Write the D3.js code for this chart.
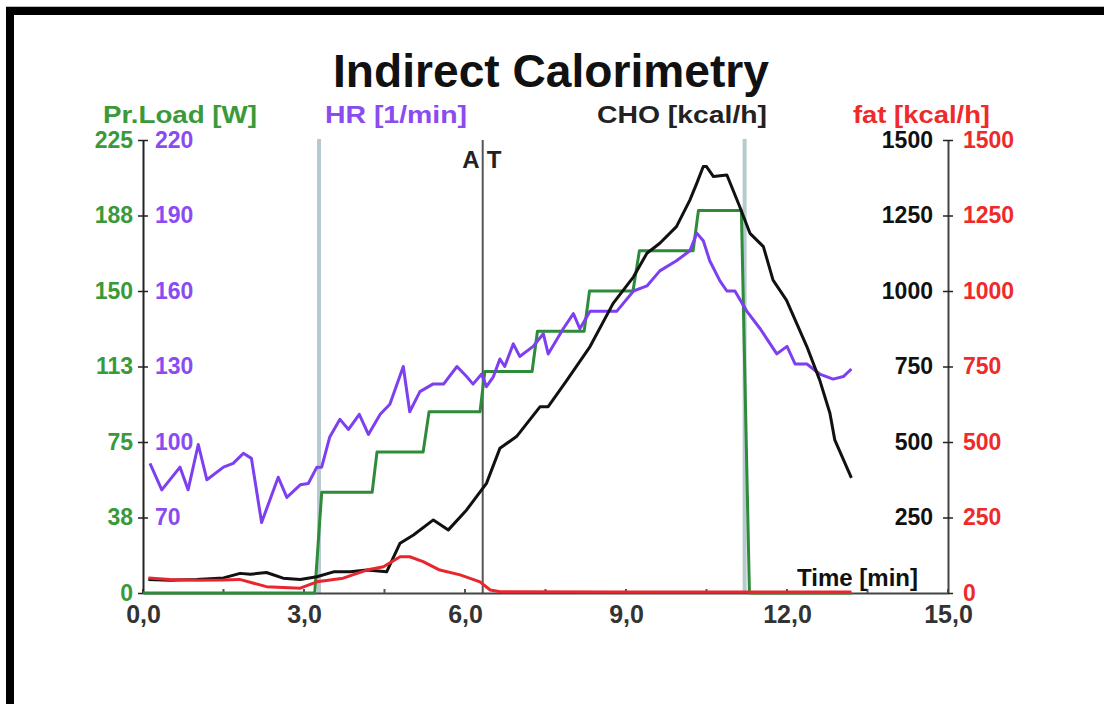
<!DOCTYPE html>
<html>
<head>
 <meta charset="UTF-8">
 <title>Indirect Calorimetry</title>
 <script src="https://d3js.org/d3.v7.min.js"></script>
 <style>
  body { margin: 0; background: #fff; }
  text { font-family: "Liberation Sans", Arial, sans-serif; }
 </style>
</head>
<body>
<script type="text/javascript">
// time axis [min]
var timeTicks = [0, 3, 6, 9, 12, 15];
var loadTicks = [0, 37.5, 75, 112.5, 150, 187.5, 225];
var hrTicks = [70, 100, 130, 160, 190, 220];
var choTicks = [250, 500, 750, 1000, 1250, 1500];
var fatTicks = [0, 250, 500, 750, 1000, 1250, 1500];

// Pr.Load [W]
var loadTime = [0, 3.2, 3.33, 4.27, 4.36, 5.22, 5.33, 6.28, 6.37, 7.25, 7.35, 8.22, 8.32, 9.13, 9.25, 10.25, 10.35, 11.15, 11.3, 13.2];
var loadWatt = [0, 0, 50, 50, 70, 70, 90, 90, 110, 110, 130, 130, 150, 150, 170, 170, 190, 190, 0, 0];

// HR [1/min]
var hrTime = [0.13, 0.35, 0.69, 0.84, 1.03, 1.19, 1.5, 1.68, 1.87, 2.02, 2.21, 2.52, 2.68, 2.93, 3.08, 3.24, 3.33, 3.48, 3.67, 3.83, 4.03,
  4.2, 4.42, 4.6, 4.85, 4.97, 5.16, 5.4, 5.6, 5.85, 6.03, 6.15, 6.31, 6.4, 6.53, 6.65, 6.74, 6.9, 7.02, 7.27, 7.46, 7.55, 7.83,
  8.02, 8.14, 8.33, 8.58, 8.83, 9.14, 9.39, 9.63, 9.94, 10.19, 10.32, 10.44, 10.56, 10.75, 10.88, 11.03, 11.25, 11.5, 11.81,
  12.0, 12.15, 12.37, 12.61, 12.86, 13.05, 13.2];
var hrBpm = [91.5, 81, 90, 81, 99, 85, 90, 91.5, 95.5, 93.5, 68, 86, 78, 83, 83.5, 90, 90, 102, 109, 105, 111,
  103, 111, 115, 130, 112, 120, 123, 123, 130, 126, 123, 127, 122, 126, 133, 130, 139, 134, 138, 143, 135, 145,
  151, 145, 152, 152, 152, 160, 162, 168, 172, 176, 183, 180, 172, 164, 160, 160, 152, 145, 135,
  138, 131, 131, 127, 125, 126, 129];

// CHO [kcal/h]
var choTime = [0.1, 0.5, 1.0, 1.5, 1.81, 2.0, 2.3, 2.61, 2.93, 3.24, 3.55, 3.86, 4.17, 4.54, 4.79, 5.04, 5.41, 5.69, 6.03, 6.4,
  6.65, 6.96, 7.4, 7.55, 7.9, 8.33, 8.76, 9.14, 9.39, 9.63, 9.94, 10.19, 10.32, 10.44, 10.5, 10.63, 10.88, 11.12, 11.31,
  11.56, 11.74, 11.99, 12.37, 12.61, 12.8, 12.89, 13.2];
var choKcal = [45, 42, 45, 50, 65, 62, 68, 49, 45, 54, 70, 70, 76, 70, 165, 192, 242, 209, 275, 363,
  479, 518, 617, 617, 705, 816, 959, 1047, 1125, 1158, 1213, 1301, 1357, 1412, 1412, 1379, 1384, 1279, 1191,
  1147, 1036, 970, 816, 705, 595, 507, 381];

// fat [kcal/h]
var fatTime = [0.1, 0.5, 1.0, 1.5, 1.8, 2.3, 2.93, 3.24, 3.73, 4.17, 4.48, 4.79, 4.97, 5.22, 5.53, 5.91, 6.28, 6.47, 6.65, 9.0, 13.2];
var fatKcal = [50, 45, 42, 43, 45, 21, 16, 37, 49, 76, 87, 120, 120, 104, 76, 60, 37, 10, 4, 3, 3];

// markers [min]
var phaseLines = [3.28, 11.21];
var atTime = 6.33;

var svg = d3.select('body').append('svg')
  .attr('width', 1104)
  .attr('height', 704);

// frame
svg.append('rect').attr('x', 6).attr('y', 6).attr('width', 1098).attr('height', 1).attr('fill', '#bbb');
svg.append('rect').attr('x', 6).attr('y', 7).attr('width', 1098).attr('height', 8).attr('fill', '#000');
svg.append('rect').attr('x', 6).attr('y', 7).attr('width', 8).attr('height', 697).attr('fill', '#000');

var x = d3.scaleLinear().domain([0, 15]).range([143, 948]);
var yLoad = d3.scaleLinear().domain([0, 225]).range([593, 140]);
var yHR = d3.scaleLinear().domain([40, 220]).range([593, 140]);
var yCho = d3.scaleLinear().domain([0, 1500]).range([593, 140]);
var yFat = d3.scaleLinear().domain([0, 1500]).range([593, 140]);

// title and axis headers
svg.append('text').attr('x', 551).attr('y', 87).attr('text-anchor', 'middle')
  .style('font-size', '46px').style('font-weight', 'bold').attr('fill', '#111')
  .attr('textLength', 436).attr('lengthAdjust', 'spacingAndGlyphs')
  .text('Indirect Calorimetry');

function header(txt, x0, w, color) {
  svg.append('text').attr('x', x0).attr('y', 123)
    .style('font-size', '24px').style('font-weight', 'bold').attr('fill', color)
    .attr('textLength', w).attr('lengthAdjust', 'spacingAndGlyphs')
    .text(txt);
}
header('Pr.Load [W]', 103, 154, '#3a9a3a');
header('HR [1/min]', 325, 142, '#8a4cf0');
header('CHO [kcal/h]', 597, 170, '#222');
header('fat [kcal/h]', 853, 137, '#ee2a2a');

// reference lines
svg.selectAll('.phase').data(phaseLines).enter().append('line')
  .attr('x1', function (d) { return x(d); }).attr('x2', function (d) { return x(d); })
  .attr('y1', 139).attr('y2', 593)
  .attr('stroke', '#b7cacd').attr('stroke-width', 4);

svg.append('line').attr('x1', x(atTime)).attr('x2', x(atTime))
  .attr('y1', 140).attr('y2', 593)
  .attr('stroke', '#555').attr('stroke-width', 2);
svg.append('text').attr('x', x(atTime) - 3).attr('y', 168).attr('text-anchor', 'end')
  .style('font-size', '24px').style('font-weight', 'bold').attr('fill', '#222').text('A');
svg.append('text').attr('x', x(atTime) + 4).attr('y', 168)
  .style('font-size', '24px').style('font-weight', 'bold').attr('fill', '#222').text('T');

// axes
function styleAxis(g, color, weight, size) {
  g.selectAll('text').attr('fill', color).style('font-size', size).style('font-weight', weight);
  g.selectAll('line').attr('stroke', '#222').attr('stroke-width', 1.5);
  g.select('.domain').attr('stroke', '#222').attr('stroke-width', 2);
}

var gBottom = svg.append('g').attr('transform', 'translate(0,593)')
  .call(d3.axisBottom(x).tickValues(timeTicks).tickSize(0).tickPadding(12)
    .tickFormat(function (d) { return d3.format('.1f')(d).replace('.', ','); }));
styleAxis(gBottom, '#333', 'bold', '25px');
gBottom.select('.domain').attr('stroke', '#444');

svg.append('g').selectAll('line').data(d3.range(0, 15.01, 1.5)).enter().append('line')
  .attr('x1', function (d) { return x(d); }).attr('x2', function (d) { return x(d); })
  .attr('y1', 593).attr('y2', 589).attr('stroke', '#555').attr('stroke-width', 2);

var gLoad = svg.append('g').attr('transform', 'translate(143,0)')
  .call(d3.axisLeft(yLoad).tickValues(loadTicks).tickSize(5).tickSizeOuter(0).tickPadding(5)
    .tickFormat(function (d) { return Math.round(d); }));
styleAxis(gLoad, '#3a9a3a', 'bold', '23px');

var gHR = svg.append('g').attr('transform', 'translate(143,0)')
  .call(d3.axisRight(yHR).tickValues(hrTicks).tickSize(5).tickSizeOuter(0).tickPadding(7));
styleAxis(gHR, '#8a4cf0', 'bold', '23px');
gHR.select('.domain').remove();

var gCho = svg.append('g').attr('transform', 'translate(948,0)')
  .call(d3.axisLeft(yCho).tickValues(choTicks).tickSize(5).tickSizeOuter(0).tickPadding(10)
    .tickFormat(d3.format('d')));
styleAxis(gCho, '#111', 'bold', '23px');
gCho.select('.domain').attr('stroke', '#444');

var gFat = svg.append('g').attr('transform', 'translate(948,0)')
  .call(d3.axisRight(yFat).tickValues(fatTicks).tickSize(5).tickSizeOuter(0).tickPadding(10)
    .tickFormat(d3.format('d')));
styleAxis(gFat, '#ee2a2a', 'bold', '23px');
gFat.select('.domain').remove();

svg.append('text').attr('x', 918).attr('y', 586).attr('text-anchor', 'end')
  .style('font-size', '24px').style('font-weight', 'bold').attr('fill', '#111').text('Time [min]');

// series
function drawSeries(ts, vs, yScale, color, width) {
  var pts = ts.map(function (t, i) { return [t, vs[i]]; });
  svg.append('path').datum(pts)
    .attr('fill', 'none').attr('stroke', color).attr('stroke-width', width)
    .attr('stroke-linejoin', 'round')
    .attr('d', d3.line().x(function (d) { return x(d[0]); }).y(function (d) { return yScale(d[1]); }));
}
drawSeries(loadTime, loadWatt, yLoad, '#2e8b3a', 3);
drawSeries(hrTime, hrBpm, yHR, '#7d3ff0', 3);
drawSeries(choTime, choKcal, yCho, '#111', 3);
drawSeries(fatTime, fatKcal, yFat, '#e8262e', 3);
</script>
</body>
</html>
